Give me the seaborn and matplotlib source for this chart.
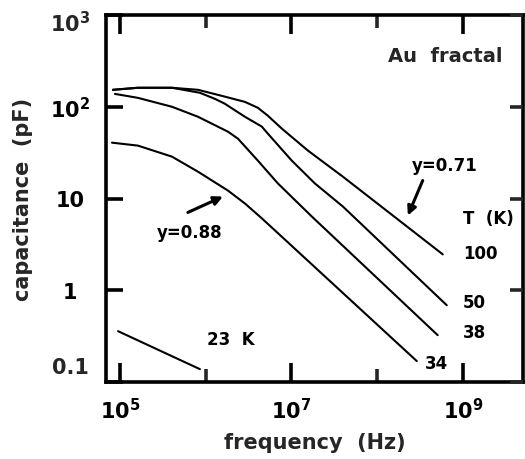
import matplotlib
matplotlib.use("Agg")
import matplotlib.pyplot as plt
from matplotlib.ticker import FixedLocator, NullLocator, NullFormatter
from matplotlib.transforms import blended_transform_factory
import pandas as pd
import seaborn as sns

sns.set_style("white")
plt.rcParams["font.family"] = ["DejaVu Sans"]
plt.rcParams["font.weight"] = "bold"
plt.rcParams["mathtext.fontset"] = "dejavusans"

# ---- data (frequency in Hz, capacitance in pF) ----
temps = ["100", "50", "38", "34", "23"]
freq_100 = [8.28e4, 1.62e5, 4.04e5, 8.13e5, 1.67e6, 2.87e6, 4.06e6, 5.32e6, 7.75e6,
            1.56e7, 3.99e7, 5.85e8]
cap_100 = [153, 161, 161, 153, 129, 113, 97.5, 79.8, 57.7, 33.3, 17.3, 2.46]
freq_50 = [8.28e4, 1.62e5, 4.04e5, 8.57e5, 1.28e6, 1.67e6, 2.87e6, 4.53e6, 5.32e6,
           1.01e7, 1.88e7, 3.99e7, 6.5e8]
cap_50 = [153, 161, 161, 142, 122, 108, 77.8, 60.7, 50.9, 25.9, 14.6, 8.18, 0.687]
freq_38 = [8.75e4, 1.62e5, 4.04e5, 8.13e5, 1.82e6, 2.38e6, 4.06e6, 6.96e6, 1.73e7, 5.1e8]
cap_38 = [138, 125, 100, 77.8, 53.5, 44.9, 25.9, 14.6, 6.37, 0.324]
freq_34 = [8.07e4, 1.62e5, 4.04e5, 8.13e5, 1.82e6, 2.87e6, 4.53e6, 2.91e8]
cap_34 = [40.6, 37.7, 28.6, 19.6, 12.2, 8.83, 6.07, 0.169]
freq_23 = [9.5e4, 8.57e5]
cap_23 = [0.358, 0.138]

x_major = [1e5, 1e7, 1e9]
x_major_labels = [r"$\mathbf{10^{5}}$", r"$\mathbf{10^{7}}$", r"$\mathbf{10^{9}}$"]
x_minor = [1e6, 1e8]
y_ticks = [0.1, 1, 10, 100, 1000]
y_labels = ["", "1", "10", r"$\mathbf{10^{2}}$", ""]

frames = []
for t, f, c in zip(temps, [freq_100, freq_50, freq_38, freq_34, freq_23],
                   [cap_100, cap_50, cap_38, cap_34, cap_23]):
    frames.append(pd.DataFrame({"freq": f, "cap": c, "T": t}))
df = pd.concat(frames, ignore_index=True)

fig = plt.figure(figsize=(5.25, 4.6), dpi=100)
ax = fig.add_axes([106 / 525, 1 - 383 / 460, 417 / 525, 367 / 460])

sns.lineplot(data=df, x="freq", y="cap", hue="T", hue_order=temps,
             palette={t: "black" for t in temps}, estimator=None, sort=False,
             legend=False, linewidth=1.5, ax=ax)

ax.set_xscale("log")
ax.set_yscale("log")
ax.set_xlim(10 ** 4.837, 10 ** 9.703)
ax.set_ylim(0.1, 1000)

ax.xaxis.set_major_locator(FixedLocator(x_major))
ax.set_xticklabels(x_major_labels)
ax.xaxis.set_minor_locator(FixedLocator(x_minor))
ax.xaxis.set_minor_formatter(NullFormatter())
ax.set_yticks(y_ticks, y_labels, ha="center")
ax.yaxis.set_minor_locator(NullLocator())

for sp in ax.spines.values():
    sp.set_linewidth(2.6)
    sp.set_color("black")

ax.tick_params(axis="x", which="major", direction="in", length=13.5, width=2.6,
               top=True, bottom=True, labelsize=15, pad=11, colors="black")
ax.tick_params(axis="x", which="minor", direction="in", length=9.5, width=2.6,
               top=True, bottom=True)
ax.tick_params(axis="y", which="major", direction="in", length=12.5, width=2.6,
               left=True, right=False, labelsize=15, pad=26, colors="black")

# end labels of the y axis sit slightly inside the axis range
ytrans = blended_transform_factory(ax.transAxes, ax.transData)
ax.text(-0.0863, 0.1456, "0.1", transform=ytrans, ha="center", va="center",
        fontsize=15, fontweight="bold")
ax.text(-0.0863, 818, r"$\mathbf{10^{3}}$", transform=ytrans, ha="center",
        va="center", fontsize=15, fontweight="bold")

ax2 = ax.twinx()
ax2.set_yscale("log")
ax2.set_ylim(ax.get_ylim())
ax2.set_yticks(y_ticks)
ax2.yaxis.set_minor_locator(NullLocator())
ax2.tick_params(axis="y", direction="in", length=9.5, width=2.6, labelright=False)
for sp in ax2.spines.values():
    sp.set_visible(False)

ax.set_xlabel("frequency  (Hz)", fontsize=15, fontweight="bold")
ax.set_ylabel("capacitance  (pF)", fontsize=15, fontweight="bold")
ax.xaxis.set_label_coords(0.5, -0.136)
ax.yaxis.set_label_coords(-0.175, 0.5)

tkw = dict(fontsize=12, fontweight="bold", color="black")
ax.text(6.3e8, 358, "Au  fractal", ha="center", va="center", fontsize=14,
        fontweight="bold")
ax.text(6.2e8, 22.9, "y=0.71", ha="center", va="center", **tkw)
ax.text(6.55e5, 4.27, "y=0.88", ha="center", va="center", **tkw)
ax.text(1e9, 6.07, "T  (K)", ha="left", va="center", **tkw)
ax.text(1e9, 2.52, "100", ha="left", va="center", **tkw)
ax.text(1e9, 0.741, "50", ha="left", va="center", **tkw)
ax.text(1e9, 0.349, "38", ha="left", va="center", **tkw)
ax.text(3.6e8, 0.161, "34", ha="left", va="center", **tkw)
ax.text(1.03e6, 0.293, "23  K", ha="left", va="center", **tkw)

akw = dict(arrowstyle="-|>", color="black", lw=2.2, mutation_scale=13,
           shrinkA=0, shrinkB=0)
ax.annotate("", xy=(2.29e8, 6.53), xytext=(3.41e8, 15.7), arrowprops=akw)
ax.annotate("", xy=(1.59e6, 10.5), xytext=(6.2e5, 7.05), arrowprops=akw)

fig.savefig("out.png", dpi=100)
